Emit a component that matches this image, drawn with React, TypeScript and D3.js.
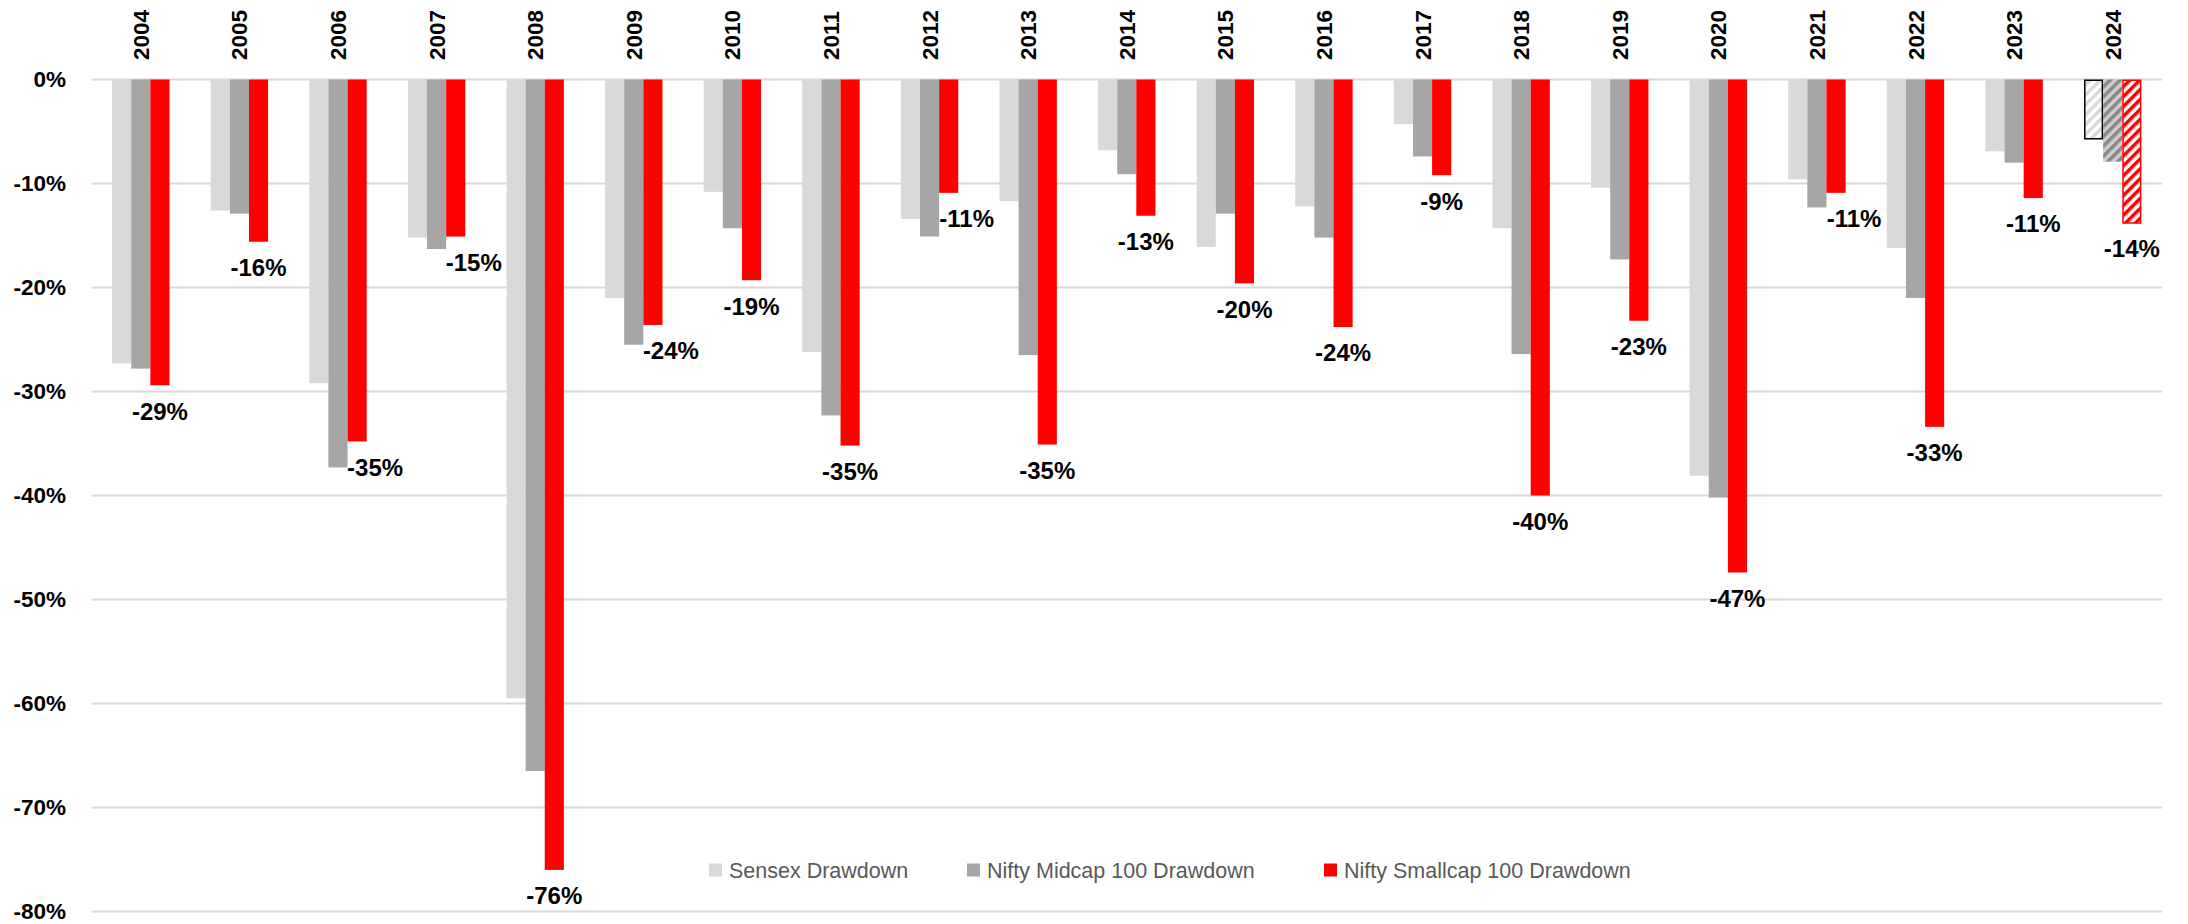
import React from "react";
import * as d3 from "d3";

const years = ["2004","2005","2006","2007","2008","2009","2010","2011","2012","2013","2014","2015","2016","2017","2018","2019","2020","2021","2022","2023","2024"];
const sensex = [-27.3,-12.6,-29.2,-15.2,-59.5,-21.0,-10.8,-26.2,-13.4,-11.7,-6.8,-16.1,-12.2,-4.3,-14.3,-10.4,-38.1,-9.6,-16.2,-6.9,-5.7];
const midcap = [-27.8,-12.9,-37.3,-16.3,-66.5,-25.5,-14.3,-32.3,-15.1,-26.5,-9.1,-12.9,-15.2,-7.4,-26.4,-17.3,-40.2,-12.3,-21.0,-8.0,-7.9];
const smallcap = [-29.4,-15.6,-34.8,-15.1,-76.0,-23.6,-19.3,-35.2,-10.9,-35.1,-13.1,-19.6,-23.8,-9.2,-40.0,-23.2,-47.4,-10.9,-33.4,-11.4,-13.8];
const seriesNames = ["Sensex Drawdown","Nifty Midcap 100 Drawdown","Nifty Smallcap 100 Drawdown"];
const seriesColors = ["#d9d9d9","#a6a6a6","#ff0000"];
const yTicks = [0,-10,-20,-30,-40,-50,-60,-70,-80];
const partialYear = "2024";

const W = 2188, H = 924;
const FONT = "'Liberation Sans', Arial, sans-serif";

export default function App() {
  const x0 = d3.scaleBand<string>().domain(years).range([91.5, 2162]).paddingInner(0.418).paddingOuter(0.209);
  const x1 = d3.scaleBand<number>().domain([0,1,2]).range([0, x0.bandwidth()]).padding(0);
  const y = d3.scaleLinear().domain([-80, 0]).range([911.5, 79.5]);
  const all = [sensex, midcap, smallcap];

  const patFill = [
    { id: "pat0", bg: "#ffffff", fg: "#d9d9d9", stroke: "#000000" },
    { id: "pat1", bg: "#cfcfcf", fg: "#888888", stroke: "none" },
    { id: "pat2", bg: "#ffffff", fg: "#ff0000", stroke: "#ff0000" },
  ];

  const legendX = [709, 967, 1324];

  return (
    <svg width={W} height={H} style={{ display: "block", position: "absolute", left: 0, top: 0 }}>
      <defs>
        {patFill.map((p) => (
          <pattern key={p.id} id={p.id} patternUnits="userSpaceOnUse" width={7} height={7} patternTransform="rotate(45)">
            <rect x={0} y={0} width={7} height={7} fill={p.bg} />
            <rect x={0} y={0} width={3.5} height={7} fill={p.fg} />
          </pattern>
        ))}
      </defs>
      <rect x={0} y={0} width={W} height={H} fill="#ffffff" />
      {yTicks.map((t) => (
        <g key={t}>
          <line x1={91.5} x2={2162} y1={y(t)} y2={y(t)} stroke="#d9d9d9" strokeWidth={2} />
          <text x={66} y={y(t)} dy="0.35em" textAnchor="end" fontFamily={FONT} fontWeight="bold" fontSize={22.5} fill="#000">{`${t}%`}</text>
        </g>
      ))}
      {years.map((yr, i) => {
        const gx = x0(yr)!;
        const partial = yr === partialYear;
        return (
          <g key={yr}>
            {all.map((s, k) => {
              const v = s[i];
              const bx = gx + x1(k)!;
              const bw = x1.bandwidth();
              const y0 = y(0), y1 = y(v);
              if (partial) {
                const p = patFill[k];
                const inset = p.stroke !== "none" ? 0.75 : 0;
                return (
                  <rect key={k} x={bx + inset} y={y0 + inset}
                    width={bw - inset * 2} height={y1 - y0 - inset}
                    fill={`url(#${p.id})`} stroke={p.stroke} strokeWidth={1.5} />
                );
              }
              return <rect key={k} x={bx} y={y0} width={bw} height={y1 - y0} fill={seriesColors[k]} />;
            })}
            <text transform={`translate(${gx + x0.bandwidth() / 2 + 8},60) rotate(-90)`} textAnchor="start" fontFamily={FONT} fontWeight="bold" fontSize={22.5} fill="#000">{yr}</text>
            {(() => {
              const red = smallcap[i];
              const mid = midcap[i];
              const rx = gx + x1(2)! + x1.bandwidth() / 2;
              const shift = mid < red ? 18 : 0;
              return (
                <text x={rx + shift} y={y(red) + 26} dy="0.35em" textAnchor="middle" fontFamily={FONT} fontWeight="bold" fontSize={24} fill="#000">
                  {`${Math.round(red)}%`}
                </text>
              );
            })()}
          </g>
        );
      })}
      {seriesNames.map((n, k) => (
        <g key={n}>
          <rect x={legendX[k]} y={863.5} width={13} height={13} fill={seriesColors[k]} />
          <text x={legendX[k] + 20} y={870} dy="0.35em" fontFamily={FONT} fontSize={21.5} fill="#595959">{n}</text>
        </g>
      ))}
    </svg>
  );
}
